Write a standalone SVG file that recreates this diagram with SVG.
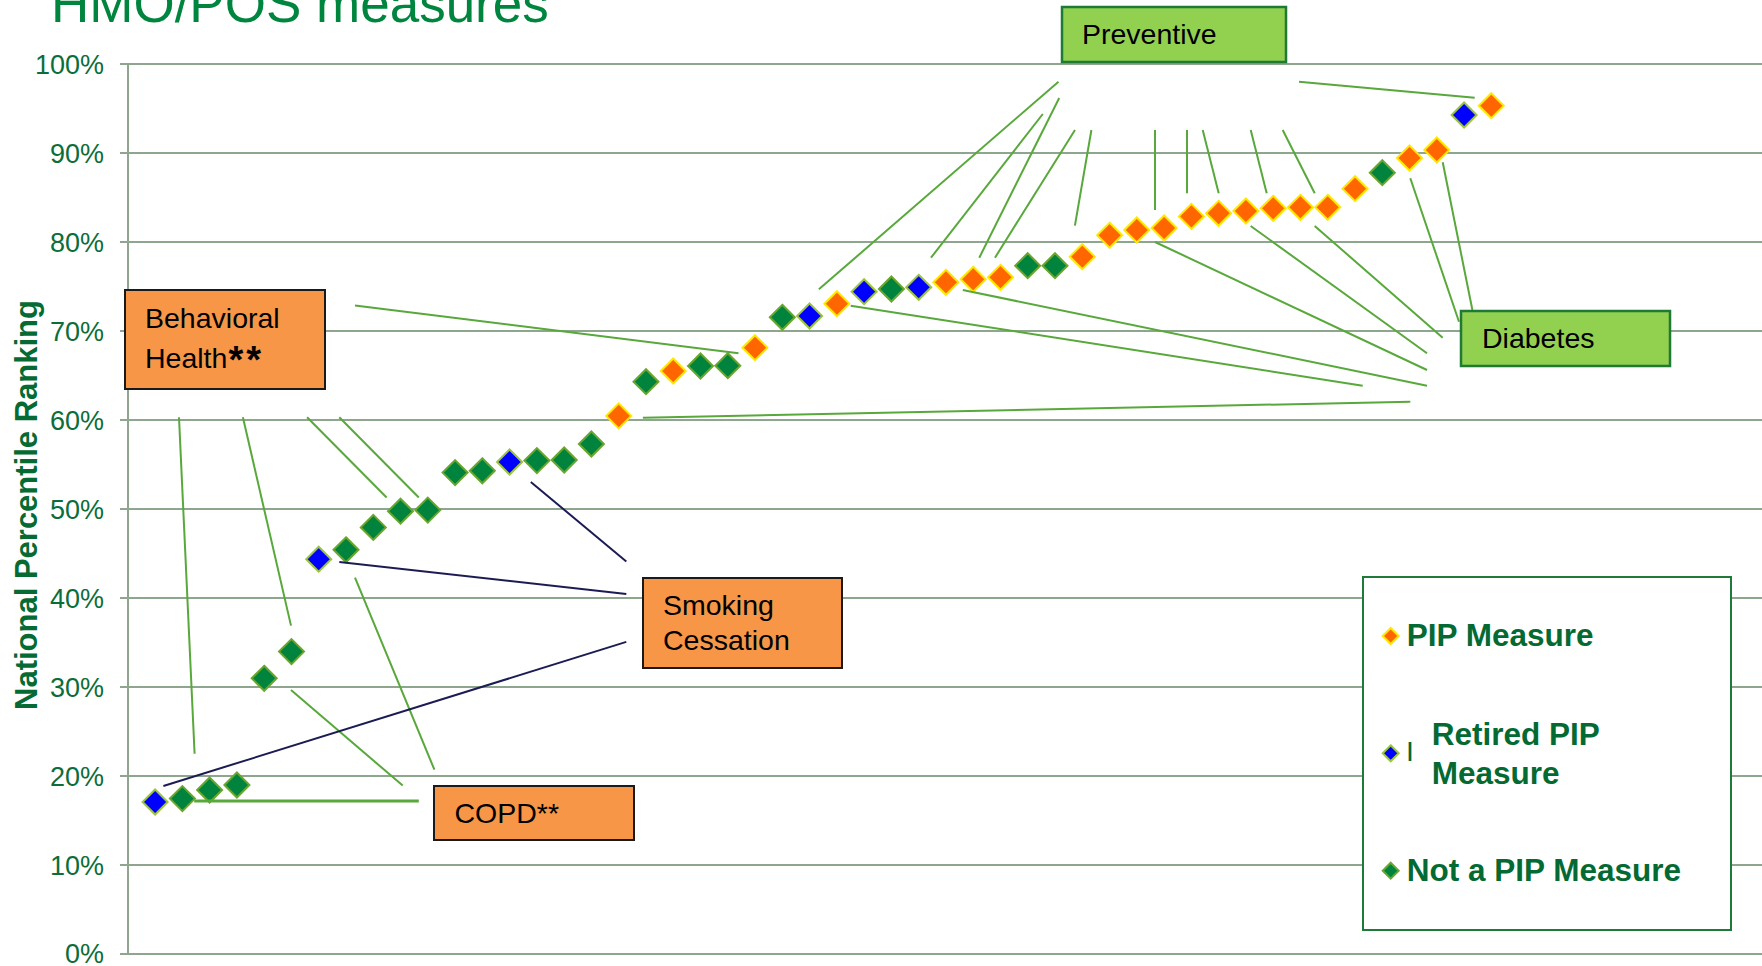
<svg xmlns="http://www.w3.org/2000/svg" xmlns:xlink="http://www.w3.org/1999/xlink" width="1762" height="966" viewBox="0 0 1762 966">
<style>
.grid{stroke:#8DA68D;stroke-width:2;fill:none}
.tick{font-family:"Liberation Sans",Arial,sans-serif;font-size:27px;fill:#0B6E3A;text-anchor:end}
.lbl{font-family:"Liberation Sans",Arial,sans-serif;font-size:28.5px;fill:#000}
.leg{font-family:"Liberation Sans",Arial,sans-serif;font-size:31.5px;font-weight:bold;fill:#046A33}
.obox{fill:#F79646;stroke:#1A1A1A;stroke-width:2}
.gbox{fill:#92D050;stroke:#1F7A35;stroke-width:2.5}
.cg{stroke:#58A83B;stroke-width:2;fill:none}
.cn{stroke:#1C1C54;stroke-width:2;fill:none}
.pip{fill:#FF6600;stroke:#FFE800;stroke-width:2}
.ret{fill:#0000FF;stroke:#9CC53C;stroke-width:2}
.not{fill:#00843D;stroke:#6AA62E;stroke-width:2}
</style>
<defs>
<path id="d" d="M0,-12.5 L12.5,0 L0,12.5 L-12.5,0 Z"/>
<path id="ds" d="M0,-8 L8,0 L0,8 L-8,0 Z"/>
</defs>
<rect width="1762" height="966" fill="#fff"/>
<text x="51" y="21.5" font-family="'Liberation Sans',Arial,sans-serif" font-size="53" fill="#00853F">HMO/POS measures</text>
<g id="axes">
<path class="grid" d="M120,64H1762M120,153H1762M120,242H1762M120,331H1762M120,420H1762M120,509H1762M120,598H1762M120,687H1762M120,776H1762M120,865H1762M120,954H1762M128,64V954"/>
<text class="tick" x="104" y="74">100%</text>
<text class="tick" x="104" y="163">90%</text>
<text class="tick" x="104" y="252">80%</text>
<text class="tick" x="104" y="341">70%</text>
<text class="tick" x="104" y="430">60%</text>
<text class="tick" x="104" y="519">50%</text>
<text class="tick" x="104" y="608">40%</text>
<text class="tick" x="104" y="697">30%</text>
<text class="tick" x="104" y="786">20%</text>
<text class="tick" x="104" y="875">10%</text>
<text class="tick" x="104" y="963">0%</text>
<text transform="translate(36.5,505) rotate(-90)" text-anchor="middle" font-family="'Liberation Sans',Arial,sans-serif" font-size="31" font-weight="bold" fill="#056B33">National Percentile Ranking</text>
</g>
<g id="points">
<use href="#d" class="ret" x="155.1" y="802"/>
<use href="#d" class="not" x="182.4" y="798.6"/>
<use href="#d" class="not" x="209.6" y="790"/>
<use href="#d" class="not" x="236.9" y="785"/>
<use href="#d" class="not" x="264.2" y="678.3"/>
<use href="#d" class="not" x="291.5" y="651.6"/>
<use href="#d" class="ret" x="318.7" y="559.2"/>
<use href="#d" class="not" x="346" y="549.8"/>
<use href="#d" class="not" x="373.3" y="527.4"/>
<use href="#d" class="not" x="400.5" y="511.2"/>
<use href="#d" class="not" x="427.8" y="510.1"/>
<use href="#d" class="not" x="455.1" y="472.6"/>
<use href="#d" class="not" x="482.3" y="470.8"/>
<use href="#d" class="ret" x="509.6" y="462"/>
<use href="#d" class="not" x="536.9" y="460.6"/>
<use href="#d" class="not" x="564.2" y="460"/>
<use href="#d" class="not" x="591.4" y="444"/>
<use href="#d" class="pip" x="618.7" y="415.9"/>
<use href="#d" class="not" x="646" y="381.7"/>
<use href="#d" class="pip" x="673.2" y="371"/>
<use href="#d" class="not" x="700.5" y="366"/>
<use href="#d" class="not" x="727.8" y="365.7"/>
<use href="#d" class="pip" x="755" y="347.7"/>
<use href="#d" class="not" x="782.3" y="317.3"/>
<use href="#d" class="ret" x="809.6" y="316"/>
<use href="#d" class="pip" x="836.9" y="303.7"/>
<use href="#d" class="ret" x="864.1" y="291.7"/>
<use href="#d" class="not" x="891.4" y="289"/>
<use href="#d" class="ret" x="918.7" y="287.3"/>
<use href="#d" class="pip" x="945.9" y="282.3"/>
<use href="#d" class="pip" x="973.2" y="279.3"/>
<use href="#d" class="pip" x="1000.5" y="277.3"/>
<use href="#d" class="not" x="1027.7" y="265.7"/>
<use href="#d" class="not" x="1055" y="265.7"/>
<use href="#d" class="pip" x="1082.3" y="256.7"/>
<use href="#d" class="pip" x="1109.6" y="235.3"/>
<use href="#d" class="pip" x="1136.8" y="230"/>
<use href="#d" class="pip" x="1164.1" y="228"/>
<use href="#d" class="pip" x="1191.4" y="216.4"/>
<use href="#d" class="pip" x="1218.6" y="213.3"/>
<use href="#d" class="pip" x="1245.9" y="211"/>
<use href="#d" class="pip" x="1273.2" y="208.3"/>
<use href="#d" class="pip" x="1300.4" y="207.3"/>
<use href="#d" class="pip" x="1327.7" y="207.3"/>
<use href="#d" class="pip" x="1355" y="188.7"/>
<use href="#d" class="not" x="1382.3" y="172.7"/>
<use href="#d" class="pip" x="1409.5" y="158"/>
<use href="#d" class="pip" x="1436.8" y="150"/>
<use href="#d" class="ret" x="1464.1" y="115"/>
<use href="#d" class="pip" x="1491.3" y="105.7"/>
</g>
<g id="connectors">
<line class="cg" x1="355" y1="305.5" x2="738.5" y2="353.3"/>
<line class="cg" x1="179" y1="417.3" x2="194.6" y2="753.8"/>
<line class="cg" x1="242.9" y1="417.3" x2="291" y2="625.6"/>
<line class="cg" x1="307.1" y1="417.3" x2="386.6" y2="497.5"/>
<line class="cg" x1="339.3" y1="417.3" x2="418.8" y2="497.5"/>
<line class="cg" x1="194.2" y1="801" x2="418.8" y2="801" style="stroke-width:3"/>
<line class="cg" x1="291" y1="689.9" x2="402.7" y2="785.6"/>
<line class="cg" x1="355" y1="577.6" x2="434.4" y2="769.7"/>
<line class="cn" x1="530.8" y1="482" x2="626.3" y2="561.4"/>
<line class="cn" x1="339.3" y1="562" x2="626.3" y2="593.9"/>
<line class="cn" x1="163.4" y1="786" x2="626.3" y2="641.9"/>
<line class="cg" x1="1058.5" y1="81.7" x2="818.9" y2="289.3"/>
<line class="cg" x1="1059.2" y1="98" x2="979.3" y2="257.7"/>
<line class="cg" x1="1042.8" y1="114" x2="931" y2="257.7"/>
<line class="cg" x1="1075" y1="130" x2="995" y2="257.7"/>
<line class="cg" x1="1091.4" y1="130" x2="1074.9" y2="225.7"/>
<line class="cg" x1="1155" y1="130" x2="1155" y2="210"/>
<line class="cg" x1="1187" y1="130" x2="1187" y2="193.3"/>
<line class="cg" x1="1202.7" y1="130" x2="1218.7" y2="193.3"/>
<line class="cg" x1="1250.7" y1="130" x2="1266.7" y2="193.3"/>
<line class="cg" x1="1282.7" y1="130" x2="1314.7" y2="193.3"/>
<line class="cg" x1="1299" y1="81.7" x2="1474.7" y2="97.7"/>
<line class="cg" x1="1155" y1="242" x2="1427" y2="370"/>
<line class="cg" x1="1250.7" y1="226" x2="1427" y2="353.3"/>
<line class="cg" x1="1314.7" y1="226" x2="1442.7" y2="337.7"/>
<line class="cg" x1="1410.3" y1="178.3" x2="1459" y2="321.7"/>
<line class="cg" x1="1442.7" y1="162.3" x2="1472.4" y2="310"/>
<line class="cg" x1="962.8" y1="290" x2="1427" y2="385.7"/>
<line class="cg" x1="850.7" y1="305.7" x2="1362.7" y2="385.7"/>
<line class="cg" x1="642.9" y1="417.7" x2="1410.3" y2="401.7"/>
</g>
<g id="behavioral-health">
<rect class="obox" x="125" y="290" width="200" height="99"/>
<text class="lbl" x="145" y="328">Behavioral</text>
<text class="lbl" x="145" y="368">Health<tspan font-size="38" font-weight="bold" letter-spacing="3" dx="1" dy="5">**</tspan></text>
</g>
<g id="copd">
<rect class="obox" x="434" y="786" width="200" height="54"/>
<text class="lbl" x="454.5" y="823">COPD**</text>
</g>
<g id="smoking-cessation">
<rect class="obox" x="643" y="578" width="199" height="90"/>
<text class="lbl" x="663" y="615">Smoking</text>
<text class="lbl" x="663" y="650">Cessation</text>
</g>
<g id="preventive">
<rect class="gbox" x="1062" y="7" width="224" height="55"/>
<text class="lbl" x="1082" y="44.3">Preventive</text>
</g>
<g id="diabetes">
<rect class="gbox" x="1461" y="311" width="209" height="55"/>
<text class="lbl" x="1482" y="348">Diabetes</text>
</g>
<g id="legend">
<rect x="1363" y="577" width="368" height="353" fill="#fff" stroke="#1F7A3A" stroke-width="2"/>
<use href="#ds" class="pip" x="1390.7" y="636"/>
<text class="leg" x="1406.7" y="646">PIP Measure</text>
<use href="#ds" class="ret" x="1390.7" y="753.3"/>
<text class="leg" x="1407" y="757.3" style="font-size:21px">|</text>
<text class="leg" x="1431.7" y="745">Retired PIP</text>
<text class="leg" x="1431.7" y="784">Measure</text>
<use href="#ds" class="not" x="1390.7" y="870.7"/>
<text class="leg" x="1406.7" y="880.7">Not a PIP Measure</text>
</g>
</svg>
